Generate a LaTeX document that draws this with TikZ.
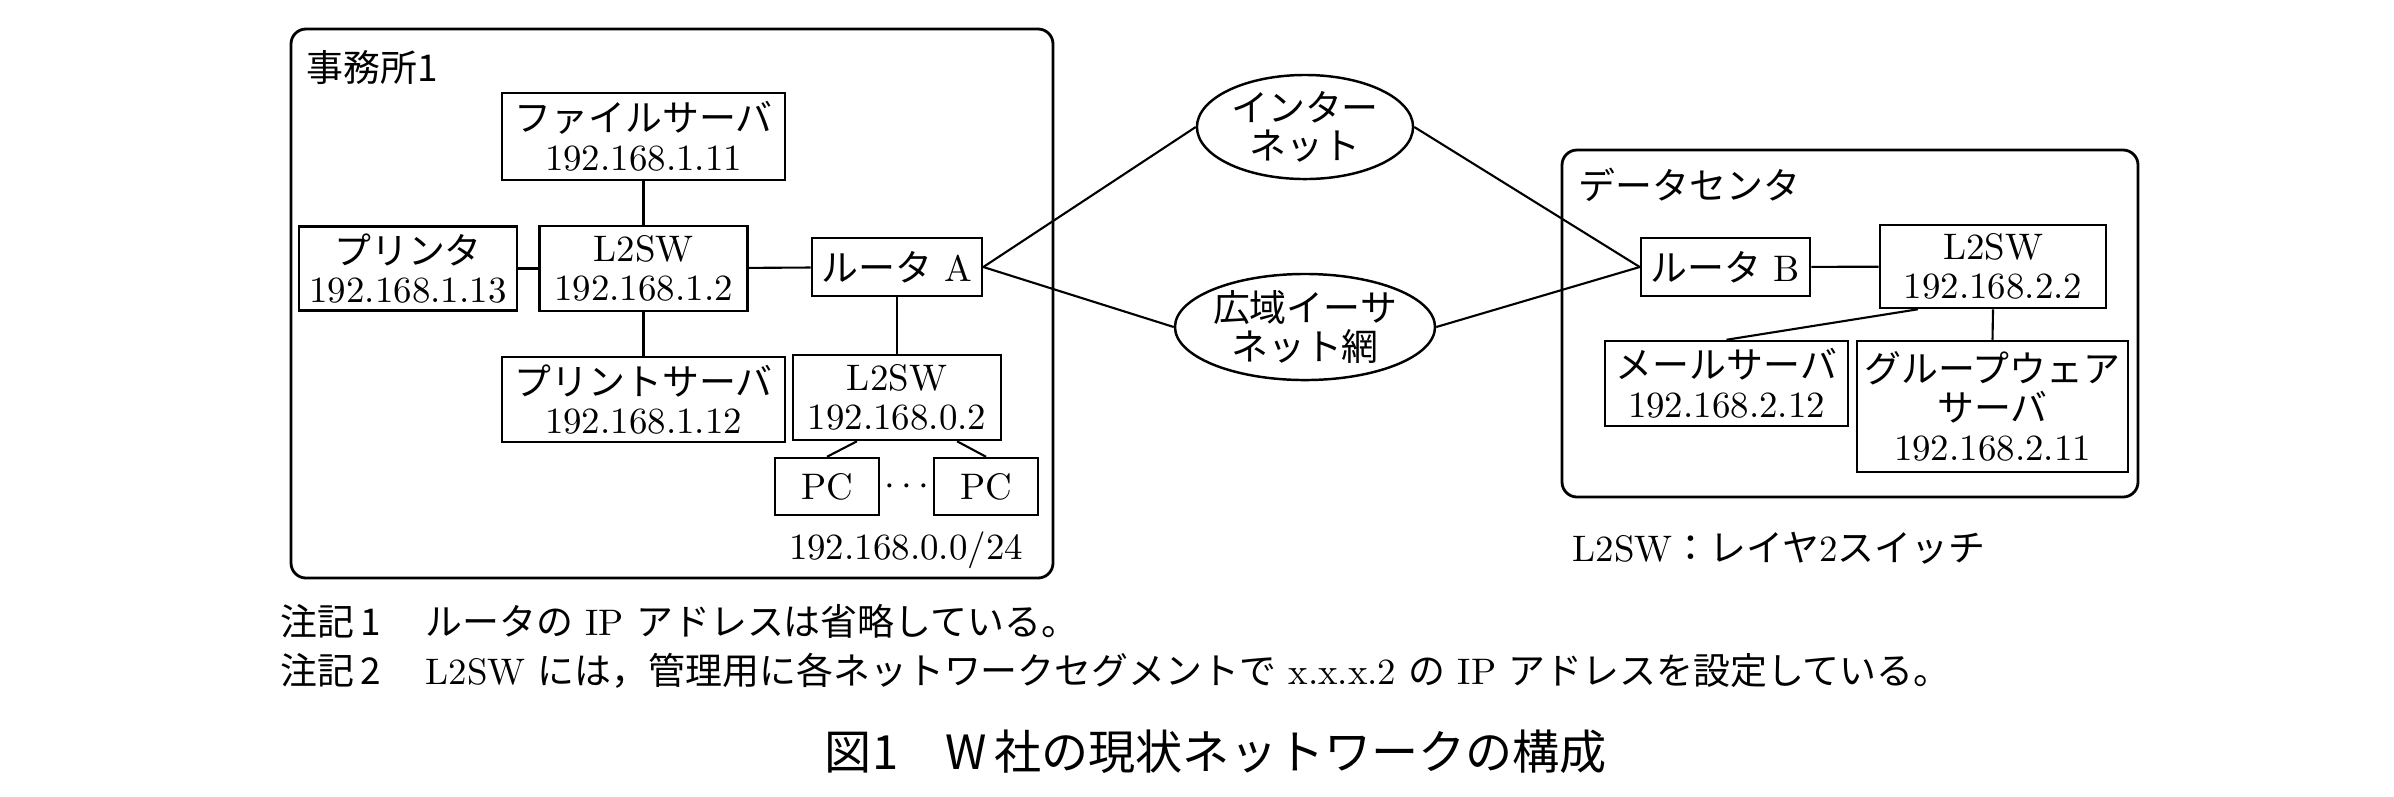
\documentclass[tikz,border=0pt]{standalone}
\usepackage{fontspec}
\usetikzlibrary{shapes.geometric}
\newfontfamily\jp{Noto Sans CJK JP}
\newcommand\dia{\fontsize{10.5pt}{11pt}\selectfont}
\newcommand\notefont{\fontsize{10.5pt}{12pt}\selectfont}
\newcommand\capfont{\fontsize{13.4pt}{15pt}\selectfont}

\begin{document}
\begin{tikzpicture}[x=0.01cm,y=-0.01cm,
    devbox/.style={draw,line width=0.7pt,inner sep=0pt,align=center,font=\dia},
    netw/.style={draw,ellipse,line width=0.7pt,inner sep=0pt,align=center,font=\dia},
    lbl/.style={anchor=west,inner sep=0pt,font=\dia},
    link/.style={line width=0.6pt},
    grp/.style={line width=0.8pt,rounded corners=0.15cm}]
  \useasboundingbox (0,0) rectangle (2394,796);

  % office 1
  \draw[grp] (291,29) rectangle (1053,578);
  \node[lbl] (offlbl) at (306,67) {\jp 事務所1};
  \node[devbox,minimum width=2.83cm,minimum height=0.87cm] (fsrv) at (643.5,136.5) {{\jp ファイルサーバ}\\192.168.1.11};
  \node[devbox,minimum width=2.18cm,minimum height=0.84cm] (prn) at (408,268.5) {{\jp プリンタ}\\192.168.1.13};
  \node[devbox,minimum width=2.08cm,minimum height=0.85cm] (sw1) at (643.5,268.5) {L2SW\\192.168.1.2};
  \node[devbox,minimum width=2.83cm,minimum height=0.85cm] (psrv) at (643.5,399.5) {{\jp プリントサーバ}\\192.168.1.12};
  \node[devbox,minimum width=1.70cm,minimum height=0.58cm] (rtA) at (897,267) {{\jp ルータ} A};
  \node[devbox,minimum width=2.08cm,minimum height=0.85cm] (sw0) at (897,397.5) {L2SW\\192.168.0.2};
  \node[devbox,minimum width=1.04cm,minimum height=0.57cm] (pc1) at (827,486.5) {PC};
  \node[devbox,minimum width=1.04cm,minimum height=0.57cm] (pc2) at (986,486.5) {PC};
  \node[font=\dia] (dots) at (907,487) {$\cdots$};
  \node[font=\dia] (subnet) at (906,550) {192.168.0.0/24};

  % networks
  \node[netw,minimum width=2.16cm,minimum height=1.04cm] (inet) at (1305,127) {{\jp インター}\\{\jp ネット}};
  \node[netw,minimum width=2.56cm,minimum height=1.06cm] (wan) at (1305,327) {{\jp 広域イーサ}\\{\jp ネット網}};

  % data center
  \draw[grp] (1562,150) rectangle (2138,497);
  \node[lbl] (dclbl) at (1578,185) {\jp データセンタ};
  \node[devbox,minimum width=1.69cm,minimum height=0.58cm] (rtB) at (1725.5,267) {{\jp ルータ} B};
  \node[devbox,minimum width=2.26cm,minimum height=0.83cm] (sw2) at (1993,266.5) {L2SW\\192.168.2.2};
  \node[devbox,minimum width=2.43cm,minimum height=0.85cm] (mail) at (1726.5,383.5) {{\jp メールサーバ}\\192.168.2.12};
  \node[devbox,minimum width=2.71cm,minimum height=1.31cm] (gw) at (1992.5,406.5) {{\jp グループウェア}\\{\jp サーバ}\\192.168.2.11};
  \node[lbl] (legend) at (1572,548) {L2SW{\jp ：レイヤ}2{\jp スイッチ}};

  % connectors
  \draw[link] (fsrv) -- (sw1);
  \draw[link] (prn) -- (sw1);
  \draw[link] (sw1) -- (rtA);
  \draw[link] (sw1) -- (psrv);
  \draw[link] (rtA) -- (sw0);
  \draw[link] ([xshift=-0.4cm]sw0.south) -- (pc1.north);
  \draw[link] ([xshift=0.6cm]sw0.south) -- (pc2.north);
  \draw[link] (rtA.east) -- (inet.west);
  \draw[link] (rtA.east) -- (wan.west);
  \draw[link] (inet.east) -- (rtB.west);
  \draw[link] (wan.east) -- (rtB.west);
  \draw[link] (rtB) -- (sw2);
  \draw[link] ([xshift=-0.75cm]sw2.south) -- (mail.north);
  \draw[link] (sw2.south) -- (gw.north);

  % notes and caption
  \node[anchor=west,inner sep=0pt,font=\notefont] (note1) at (280,621) {{\jp 注記\,1}\hspace{1.2em}{\jp ルータの} IP {\jp アドレスは省略している。}};
  \node[anchor=west,inner sep=0pt,font=\notefont] (note2) at (280,671) {{\jp 注記\,2}\hspace{1.2em}L2SW {\jp には，管理用に各ネットワークセグメントで} x.x.x.2 {\jp の} IP {\jp アドレスを設定している。}};
  \node[font=\capfont] (caption) at (1216,752) {\jp 図1\hspace{1em}W\,社の現状ネットワークの構成};
\end{tikzpicture}
\end{document}
